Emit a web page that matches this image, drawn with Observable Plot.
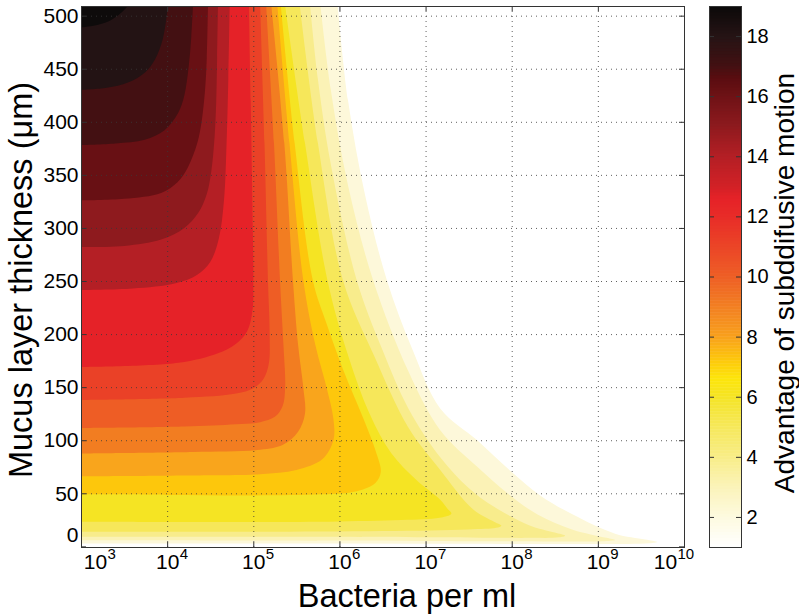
<!DOCTYPE html>
<html><head><meta charset="utf-8">
<script src="https://cdn.jsdelivr.net/npm/d3@7"></script>
<script src="https://cdn.jsdelivr.net/npm/@observablehq/plot@0.6"></script>
<style>
html,body{margin:0;padding:0;background:#fff;}
#chart{position:relative;width:799px;height:614px;overflow:hidden;}
#chart svg{position:absolute;top:0;}
</style></head><body><div id="chart"></div>
<script>
// ---- data ----
const xTickExponents = [3, 4, 5, 6, 7, 8, 9, 10];
const yTicks = [0, 50, 100, 150, 200, 250, 300, 350, 400, 450, 500];
const contourLevels = [2, 3, 4, 5, 6, 7, 8, 9, 10, 11, 12, 13, 14, 15, 16, 17, 18];
// fill colour of the band [k, k+1], k = 1..18
const bandColors = ["#ffffff", "#fdf8da", "#fbf2b6", "#f8ec8c", "#f6e75a", "#f5e423", "#fdc70c", "#f9a51c", "#f27d21",
  "#ee5d25", "#ea4127", "#e52228", "#b41f25", "#8e1a1e", "#681014", "#431012", "#231314", "#0e0b0b"];
// contour boundaries: [log10(bacteria per ml), thickness µm], from left edge to top edge
const level2 = [[3,2.7],[5,2.6],[7,2.4],[9,2.3],[9.6,3],[9.69,4.2],[9.55,6.5],[9.2,12],[8.71,30],[8.33,48],[8.0,70],[7.6,100],[7.17,130],[6.85,185],[6.55,251],[6.3,330],[6.1,420],[5.98,509.2]];
const level3 = [[3,5.7],[5,5.5],[7,5.1],[8.5,4.6],[9.05,4.8],[9.2,6],[9.1,8],[8.7,16],[8.3,30],[7.95,50],[7.6,75],[7.17,109.5],[6.8,165],[6.39,251],[6.1,340],[5.9,430],[5.78,509.2]];
const level4 = [[3,9.1],[5,9],[7,8.6],[8.2,8],[8.55,8.5],[8.62,10],[8.5,13],[8.2,20],[7.8,37],[7.5,55],[7.17,84],[6.8,130],[6.5,185],[6.2,251],[5.9,360],[5.75,440],[5.66,509.2]];
const level5 = [[3,13.8],[5,13.8],[6.5,14.5],[7.5,16],[7.82,17.5],[7.88,19.5],[7.8,23],[7.55,35],[7.17,72],[6.8,112],[6.4,180],[6.04,251],[5.75,380],[5.54,509.2]];
const level6 = [[3,23.2],[5,23],[6,23.5],[6.8,25],[7.2,27.5],[7.3,31],[7.25,36],[7.17,44],[6.9,62],[6.6,88],[6.35,125],[6.1,180],[5.86,251],[5.6,380],[5.37,509.2]];
const level7 = [[3,49],[4,48.5],[5,48],[5.8,49],[6.2,52],[6.42,60],[6.48,70],[6.42,90],[6.28,120],[6.05,165],[5.85,210],[5.69,251],[5.48,380],[5.32,509.2]];
const level8 = [[3,66],[4.5,67],[5.08,68],[5.5,72],[5.8,82],[5.93,100],[5.93,120],[5.85,150],[5.72,190],[5.58,251],[5.42,380],[5.28,509.2]];
const level9 = [[3,87.6],[4.3,89],[5.08,91],[5.35,96],[5.52,108],[5.6,125],[5.58,150],[5.52,190],[5.46,251],[5.36,380],[5.21,509.2]];
const level10 = [[3,111.6],[4.2,113],[4.8,115],[5.08,117],[5.25,122],[5.34,132],[5.37,150],[5.35,190],[5.31,251],[5.24,380],[5.15,509.2]];
const level11 = [[3,137.9],[4.2,140],[4.8,144],[5.0,149],[5.12,158],[5.18,172],[5.19,200],[5.17,251],[5.13,380],[5.08,509.2]];
const level12 = [[3,169],[4.13,173],[4.59,182],[4.8,191],[4.93,203],[4.99,222],[5.0,250],[4.99,320],[4.97,420],[4.95,509.2]];
const level13 = [[3,241.6],[3.6,243],[4.1,248],[4.35,256],[4.5,268],[4.6,290],[4.66,326],[4.69,380],[4.71,440],[4.726,509.2]];
const level14 = [[3,282],[3.5,283],[3.93,289],[4.2,300],[4.36,314],[4.46,332],[4.51,352],[4.55,385],[4.57,420],[4.58,460],[4.59,509.2]];
const level15 = [[3,326],[3.5,327.5],[3.93,333],[4.12,343],[4.24,357],[4.35,380],[4.4,400],[4.44,430],[4.46,460],[4.474,509.2]];
const level16 = [[3,378],[3.4,379.5],[3.74,383],[3.97,392],[4.126,408],[4.2,425],[4.25,452],[4.28,480],[4.3,509.2]];
const level17 = [[3,430],[3.3,432],[3.546,437],[3.75,447],[3.86,459],[3.95,478],[4.01,509.2]];
const level18 = [[3,489],[3.2,491.5],[3.35,496],[3.47,503],[3.546,509.2]];
// colour bar
const colorbarStops = [1, 2, 3, 4, 5, 6, 6.6, 7.3, 8, 9, 10, 11, 12, 12.6, 13, 14, 15, 16, 16.6, 17, 18, 19];
const colorbarColors = ["#ffffff", "#fdfadf", "#fbf3b8", "#f8ed86", "#f6e85a", "#f5e424", "#fde50a", "#fdc40c", "#f8a01c", "#f27f22",
  "#ee5e25", "#eb4527", "#e82c28", "#e52228", "#d22126", "#b41f25", "#8e1a1e", "#6e1216", "#5a0d10", "#431012", "#251415", "#0b0909"];
const colorbarTicks = [2, 4, 6, 8, 10, 12, 14, 16, 18];
const xTitle = "Bacteria per ml";
const yTitle = "Mucus layer thickness (μm)";
const cbTitle = "Advantage of subddifusive motion";

// ---- build ----
const FONT = "Liberation Sans, Helvetica, Arial, sans-serif";
const levelCurves = [level2, level3, level4, level5, level6, level7, level8, level9, level10, level11, level12, level13, level14, level15, level16, level17, level18];
const X0 = 1e3, X1 = 1e10, Y0 = -0.6, Y1 = 509.1;
const rows = [];
contourLevels.forEach((lev, i) => levelCurves[i].forEach(([e, y]) => rows.push({lev, x: 10 ** e, y, color: bandColors[lev - 1]})));

const W = 799, H = 614, ML = 81, MR = 115, MT = 6, MB = 67;
const frameW = W - ML - MR, frameH = H - MT - MB;

const main = Plot.plot({
  width: W, height: H,
  marginLeft: ML, marginRight: MR, marginTop: MT, marginBottom: MB,
  style: {fontFamily: FONT, background: "transparent", overflow: "visible"},
  x: {type: "log", domain: [X0, X1], axis: null},
  y: {domain: [Y0, Y1], axis: null},
  color: {type: "identity"},
  marks: [
    Plot.area(rows, {x1: "x", y1: "y", x2: () => X0, y2: () => Y1 + 5, z: "lev", fill: "color", curve: "catmull-rom", clip: true}),
    Plot.ruleX(xTickExponents.filter(e => e > 3 && e < 10), {x: e => 10 ** e, stroke: "#3a3a3a", strokeWidth: 1, strokeDasharray: "1,4", strokeOpacity: 0.8}),
    Plot.ruleY(yTicks.filter(v => v > 0), {y: d => d, stroke: "#3a3a3a", strokeWidth: 1, strokeDasharray: "1,4", strokeOpacity: 0.8}),
    Plot.tickX(xTickExponents, {x: e => 10 ** e, insetTop: frameH - 5, stroke: "#333"}),
    Plot.tickX(xTickExponents, {x: e => 10 ** e, insetBottom: frameH - 5, stroke: "#333"}),
    Plot.tickY(yTicks, {y: d => d, insetRight: frameW - 5, stroke: "#333"}),
    Plot.tickY(yTicks, {y: d => d, insetLeft: frameW - 5, stroke: "#333"}),
    Plot.frame({stroke: "#333", strokeWidth: 1}),
    // y tick labels
    Plot.text(yTicks, {filter: d => d > 0, y: d => d, text: d => String(d), frameAnchor: "left", textAnchor: "end", dx: -3, fontSize: 21, fill: "#000"}),
    Plot.text(yTicks, {filter: d => d === 0, y: d => d, text: d => String(d), frameAnchor: "left", textAnchor: "end", dx: -3, dy: -12, fontSize: 21, fill: "#000"}),
    // x tick labels: base "10" and superscript exponent
    Plot.text(xTickExponents, {filter: e => e > 3 && e < 10, x: e => 10 ** e, text: () => "10", frameAnchor: "bottom", lineAnchor: "top", dy: 7, fontSize: 21, fill: "#000"}),
    Plot.text(xTickExponents, {filter: e => e > 3 && e < 10, x: e => 10 ** e, text: e => String(e), frameAnchor: "bottom", lineAnchor: "top", textAnchor: "start", dx: 12, dy: 1, fontSize: 15, fill: "#000"}),
    Plot.text(xTickExponents, {filter: e => e === 3, x: e => 10 ** e, text: () => "10", frameAnchor: "bottom", lineAnchor: "top", dx: 14, dy: 7, fontSize: 21, fill: "#000"}),
    Plot.text(xTickExponents, {filter: e => e === 3, x: e => 10 ** e, text: e => String(e), frameAnchor: "bottom", lineAnchor: "top", textAnchor: "start", dx: 26, dy: 1, fontSize: 15, fill: "#000"}),
    Plot.text(xTickExponents, {filter: e => e === 10, x: e => 10 ** e, text: () => "10", frameAnchor: "bottom", lineAnchor: "top", dx: -19, dy: 7, fontSize: 21, fill: "#000"}),
    Plot.text(xTickExponents, {filter: e => e === 10, x: e => 10 ** e, text: e => String(e), frameAnchor: "bottom", lineAnchor: "top", textAnchor: "start", dx: -7, dy: 1, fontSize: 15, fill: "#000"}),
    // axis titles
    Plot.text([xTitle], {text: d => d, frameAnchor: "bottom", textAnchor: "middle", lineAnchor: "top", dx: 24, dy: 36, fontSize: 32.5, fill: "#000"}),
    Plot.text([yTitle], {text: d => d, frameAnchor: "left", textAnchor: "middle", rotate: -90, dx: -60, dy: 3, fontSize: 32.5, fill: "#000"})
  ]
});

const cbStep = 0.1;
const cbSteps = d3.range(1, 19, cbStep);
const CBL = 709, CBW = 32;
const colorbar = Plot.plot({
  width: W - 700, height: H,
  marginLeft: CBL - 700, marginRight: W - 700 - (CBL - 700) - CBW, marginTop: MT, marginBottom: MB,
  style: {fontFamily: FONT, background: "transparent", overflow: "visible"},
  x: {domain: [0, 1], axis: null},
  y: {domain: [1, 19], axis: null},
  color: {type: "linear", domain: colorbarStops, range: colorbarColors, interpolate: "rgb"},
  marks: [
    Plot.rect(cbSteps, {x1: 0, x2: 1, y1: d => d, y2: d => Math.min(19, d + cbStep * 1.15), fill: d => d + cbStep / 2}),
    Plot.tickY(colorbarTicks, {y: d => d, insetRight: CBW - 5, stroke: "#333"}),
    Plot.tickY(colorbarTicks, {y: d => d, insetLeft: CBW - 5, stroke: "#333"}),
    Plot.frame({stroke: "#333", strokeWidth: 1}),
    Plot.text(colorbarTicks, {y: d => d, text: d => String(d), frameAnchor: "right", textAnchor: "start", dx: 5, fontSize: 20, fill: "#000"}),
    Plot.text([cbTitle], {text: d => d, frameAnchor: "right", textAnchor: "middle", rotate: -90, dx: 44, dy: 6, fontSize: 28, fill: "#000"})
  ]
});
colorbar.style.left = "700px";
const chart = document.getElementById("chart");
chart.appendChild(main);
chart.appendChild(colorbar);
</script></body></html>
